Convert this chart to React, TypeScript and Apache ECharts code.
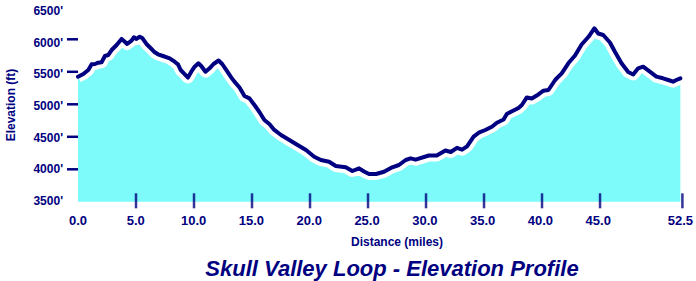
import React, { useEffect, useRef } from "react";
import * as echarts from "echarts";

// Distance along the loop (miles)
const distance = [
  0, 0.46, 0.89, 1.18, 1.47, 1.75, 2.04, 2.33, 2.61, 2.91,
  3.34, 3.77, 4.05, 4.25, 4.63, 4.83, 5.06, 5.34, 5.58, 5.92,
  6.21, 6.64, 6.92, 7.35, 7.93, 8.36, 8.65, 8.88, 9.16, 9.51,
  9.8, 10.09, 10.41, 10.66, 11.03, 11.38, 11.72, 12.16, 12.47, 12.82,
  13.25, 13.53, 13.97, 14.4, 14.83, 15.26, 15.69, 16.12, 16.55, 16.98,
  17.56, 18.28, 18.99, 19.72, 20.43, 21.01, 21.72, 22.3, 23.16, 23.73,
  24.31, 24.74, 25.17, 25.78, 26.47, 27.18, 27.76, 28.34, 28.77, 29.2,
  30.34, 31.03, 31.78, 32.24, 32.78, 33.22, 33.65, 34.22, 34.66, 35.23,
  35.8, 36.23, 36.81, 37.09, 37.67, 38.1, 38.39, 38.82, 39.25, 39.68,
  40.26, 40.69, 41.27, 41.55, 41.84, 42.41, 42.99, 43.56, 44.14, 44.66,
  45.0, 45.43, 46.01, 46.44, 47.01, 47.59, 48.02, 48.45, 48.88, 49.46,
  50.03, 50.6, 51.18, 51.47, 51.75, 52.1,
];

// Elevation (ft)
const elevation = [
  5425, 5466, 5528, 5615, 5620, 5640, 5646, 5743, 5758, 5835,
  5912, 6005, 5963, 5928, 5979, 6031, 6005, 6040, 6015, 5928,
  5877, 5800, 5769, 5743, 5708, 5655, 5615, 5528, 5477, 5412,
  5502, 5579, 5631, 5589, 5502, 5554, 5620, 5674, 5620, 5528,
  5415, 5348, 5259, 5128, 5092, 4989, 4882, 4759, 4697, 4605,
  4528, 4451, 4374, 4297, 4194, 4143, 4117, 4051, 4031, 3974,
  4015, 3966, 3928, 3928, 3963, 4031, 4066, 4143, 4169, 4148,
  4212, 4212, 4289, 4266, 4331, 4302, 4354, 4502, 4563, 4605,
  4655, 4717, 4766, 4851, 4905, 4943, 4989, 5105, 5089, 5135,
  5209, 5220, 5374, 5425, 5477, 5631, 5751, 5920, 6035, 6169,
  6089, 6066, 5951, 5809, 5631, 5497, 5459, 5554, 5579, 5502,
  5425, 5400, 5366, 5348, 5374, 5400,
];

const xTickValues = [0, 5, 10, 15, 20, 25, 30, 35, 40, 45, 52.1];
const xTickLabels = ["0.0", "5.0", "10.0", "15.0", "20.0", "25.0", "30.0", "35.0", "40.0", "45.0", "52.5"];
const xTickMarks = [5, 10, 15, 20, 25, 30, 35, 40, 45, 52.1];
const yLabelValues = [3500, 4000, 4500, 5000, 5500, 6000, 6500];
const yTickMarks = [4000, 4500, 5000, 5500, 6000];

const TITLE = "Skull Valley Loop - Elevation Profile";
const X_NAME = "Distance (miles)";
const Y_NAME = "Elevation (ft)";

const NAVY = "#000080";
const CYAN = "#7dfafa";
const FONT = "'Liberation Sans', Arial, sans-serif";

const X_MAX = 52.1;
const Y_MIN = 3500;
const Y_MAX = 6500;

export default function App() {
  const ref = useRef<HTMLDivElement>(null);

  useEffect(() => {
    document.body.style.margin = "0";
    if (!ref.current) return;
    const chart = echarts.init(ref.current, null, { renderer: "svg" });
    const points = distance.map((d, i) => [d, elevation[i]]);
    const gridRect = { left: 78, right: 13.6, top: 6.8, bottom: 79.2 };
    const hidden = {
      splitLine: { show: false },
      axisLine: { show: false },
      axisTick: { show: false },
      axisLabel: { show: false },
    };

    // one short line per y tick, drawn in a narrow grid just left of the plot
    const yTickSeries = yTickMarks.map((v) => ({
      type: "line",
      xAxisIndex: 2,
      yAxisIndex: 3,
      z: 10,
      symbol: "none",
      clip: false,
      lineStyle: { color: NAVY, width: 2.5, cap: "butt" },
      data: [
        [0, v],
        [1, v],
      ],
    }));

    chart.setOption({
      animation: false,
      grid: [
        { ...gridRect },
        { ...gridRect },
        { left: 67, width: 11, top: 6.8, bottom: 79.2 },
      ],
      xAxis: [
        {
          type: "value",
          gridIndex: 0,
          min: 0,
          max: X_MAX,
          offset: -8,
          splitLine: { show: false },
          axisLine: { show: false },
          axisTick: { show: false },
          axisLabel: {
            customValues: xTickValues,
            margin: 20,
            color: NAVY,
            fontFamily: FONT,
            fontWeight: "bold",
            fontSize: 13,
            formatter: (v: number) => {
              const i = xTickValues.findIndex((t) => Math.abs(t - v) < 1e-6);
              return i >= 0 ? xTickLabels[i] : "";
            },
          },
        },
        { type: "value", gridIndex: 1, min: 0, max: X_MAX, ...hidden },
        { type: "value", gridIndex: 2, min: 0, max: 1, ...hidden },
      ],
      yAxis: [
        { type: "value", gridIndex: 0, min: Y_MIN, max: Y_MAX, interval: 500, ...hidden },
        {
          // label-only axis, spaced like the original's slightly tighter labels
          type: "value",
          gridIndex: 0,
          position: "left",
          min: 3482.6,
          max: 6571.3,
          splitLine: { show: false },
          axisLine: { show: false },
          axisTick: { show: false },
          axisLabel: {
            customValues: yLabelValues,
            margin: 15,
            color: NAVY,
            fontFamily: FONT,
            fontWeight: "bold",
            fontSize: 12,
            formatter: (v: number) => `${v}'`,
          },
        },
        { type: "value", gridIndex: 1, min: Y_MIN, max: Y_MAX, interval: 500, ...hidden },
        { type: "value", gridIndex: 2, min: Y_MIN, max: Y_MAX, interval: 500, ...hidden },
      ],
      series: [
        {
          type: "line",
          xAxisIndex: 0,
          yAxisIndex: 0,
          data: points,
          symbol: "none",
          lineStyle: { color: "#ffffff", width: 12, join: "round" },
          areaStyle: { color: CYAN, opacity: 1 },
        },
        {
          type: "line",
          xAxisIndex: 0,
          yAxisIndex: 0,
          data: points,
          symbol: "none",
          lineStyle: { color: NAVY, width: 4, join: "round", cap: "round" },
        },
        {
          // x-axis tick marks
          type: "scatter",
          xAxisIndex: 1,
          yAxisIndex: 2,
          z: 10,
          clip: false,
          symbol: "rect",
          symbolSize: [2.5, 15],
          symbolOffset: [0, -1],
          itemStyle: { color: NAVY },
          data: xTickMarks.map((v) => [v, Y_MIN]),
        },
        ...yTickSeries,
      ],
      graphic: [
        {
          type: "text",
          x: 11,
          y: 105,
          rotation: Math.PI / 2,
          style: {
            text: Y_NAME,
            fill: NAVY,
            font: `bold 12px ${FONT}`,
            align: "center",
            verticalAlign: "middle",
          },
        },
        {
          type: "text",
          x: 397,
          y: 242,
          style: {
            text: X_NAME,
            fill: NAVY,
            font: `bold 12px ${FONT}`,
            align: "center",
            verticalAlign: "middle",
          },
        },
        {
          type: "text",
          x: 392,
          y: 268,
          style: {
            text: TITLE,
            fill: NAVY,
            font: `italic bold 22px ${FONT}`,
            align: "center",
            verticalAlign: "middle",
          },
        },
      ],
    });

    return () => chart.dispose();
  }, []);

  return (
    <div
      ref={ref}
      style={{ position: "fixed", left: 0, top: 0, width: 696, height: 281, background: "#fff" }}
    />
  );
}
